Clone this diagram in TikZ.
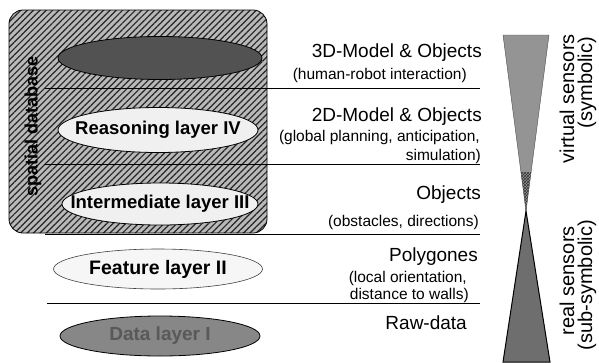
\documentclass[tikz,border=0pt]{standalone}
\usepackage{fontspec}
\setmainfont{Liberation Sans}
\usetikzlibrary{shapes.geometric,patterns,patterns.meta}
\begin{document}
\begin{tikzpicture}[x=1pt,y=-1pt,
  ell/.style={ellipse, inner sep=0pt, line width=0.8pt},
  lbl/.style={inner sep=0pt, font=\bfseries\fontsize{18.5}{20}\selectfont},
  ttl/.style={anchor=east, inner sep=0pt, font=\fontsize{19}{21}\selectfont},
  subt/.style={anchor=east, inner sep=0pt, font=\fontsize{15.5}{17}\selectfont},
  sepline/.style={line width=0.9pt},
  vlab/.style={rotate=90, anchor=east, inner sep=0pt, font=\fontsize{20}{22}\selectfont}]
\useasboundingbox (0,0) rectangle (599,362);

% spatial database box
\draw[line width=0.8pt, rounded corners=14pt, preaction={fill=gray!55},
      pattern={Lines[angle=45,distance=4.5pt,line width=1.2pt]}, pattern color=black!85]
  (9,10) rectangle (267,233);
\node[lbl, rotate=90, font=\bfseries\fontsize{18}{20}\selectfont] (sdb) at (33,126) {spatial database};

% separator lines
\coordinate (l1a) at (45,88);  \coordinate (l1b) at (480,88);
\coordinate (l2a) at (45,164); \coordinate (l2b) at (480,164);
\coordinate (l3a) at (45,234); \coordinate (l3b) at (480,234);
\coordinate (l4a) at (47,303); \coordinate (l4b) at (480,303);
\draw[sepline] (l1a) -- (l1b);
\draw[sepline] (l2a) -- (l2b);
\draw[sepline] (l3a) -- (l3b);
\draw[sepline] (l4a) -- (l4b);

% layer ellipses
\node[ell, draw=black, fill=black!68, minimum width=204pt, minimum height=43pt] (top) at (160,58) {};
\node[ell, draw=black, fill=gray!12, minimum width=200pt, minimum height=45pt] (reas) at (158,130) {};
\node[lbl] at (reas) {Reasoning layer IV};
\node[ell, draw=black, fill=gray!12, minimum width=196pt, minimum height=42pt] (inter) at (160,204) {};
\node[lbl] at (inter) {Intermediate layer III};
\node[ell, draw=gray!50!black, line width=0.6pt, fill=gray!7, minimum width=209pt, minimum height=40pt] (feat) at (158,269) {};
\node[lbl, font=\bfseries\fontsize{19.5}{22}\selectfont] at (feat) {Feature layer II};
\node[ell, draw=black, fill=black!47, minimum width=200pt, minimum height=40pt] (data) at (160,336) {};
\node[lbl, text=black!65, font=\bfseries\fontsize{19}{21}\selectfont] at (data) {Data layer I};

% right-hand texts
\node[ttl] (t3d) at (482,53) {3D-Model \& Objects};
\node[subt] (s3d) at (467,75) {(human-robot interaction)};
\node[ttl] (t2d) at (482,117) {2D-Model \& Objects};
\node[subt] (s2da) at (480,137) {(global planning, anticipation,};
\node[subt] (s2db) at (481,156) {simulation)};
\node[ttl] (tobj) at (481,195) {Objects};
\node[subt] (sobj) at (479,222) {(obstacles, directions)};
\node[ttl] (tpol) at (478,257) {Polygones};
\node[subt] (spola) at (467,278) {(local orientation,};
\node[subt] (spolb) at (469,295) {distance to walls)};
\node[ttl] (traw) at (467,323) {Raw-data};

% hourglass
\coordinate (tl) at (503,35); \coordinate (tr) at (549,35); \coordinate (apex) at (526,211);
\coordinate (bl) at (503,362); \coordinate (br) at (550,362);
\fill[black!42] (tl) -- (tr) -- (apex) -- cycle;
\begin{scope}
  \clip (tl) -- (tr) -- (apex) -- cycle;
  \fill[pattern=crosshatch, pattern color=gray!40!black] (500,172) rectangle (552,212);
\end{scope}
\draw[gray!60!black, line width=0.4pt] (tl) -- (tr) -- (apex) -- cycle;
\fill[black!57, draw=black, line width=1pt] (apex) -- (br) -- (bl) -- cycle;

% sensor labels
\node[vlab] (vs) at (567,34) {virtual sensors};
\node[vlab] (vsb) at (587,37) {(symbolic)};
\node[vlab] (rs) at (567,226) {real sensors};
\node[vlab] (rsb) at (587,220) {(sub-symbolic)};
\end{tikzpicture}
\end{document}
